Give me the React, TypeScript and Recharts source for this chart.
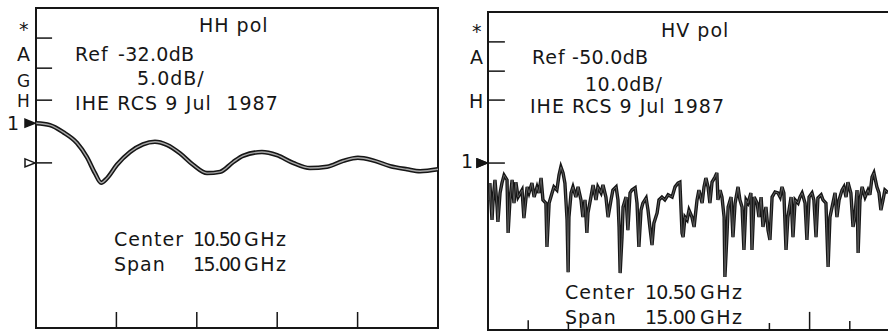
import React from 'react';
import { LineChart, Line, XAxis, YAxis, ReferenceArea, ReferenceLine, ReferenceDot } from 'recharts';

// HH pol trace (GHz, dB)
const hhFreq = [3.0, 3.52, 4.01, 4.53, 4.9, 5.2, 5.43, 5.65, 6.02, 6.51, 6.99, 7.44, 7.89, 8.37, 8.86, 9.38, 9.87, 10.35, 10.72, 11.43, 11.99, 12.59, 13.22, 13.86, 14.46, 15.01, 15.57, 16.21, 16.84, 17.33, 18.0];
const hhLevel = [-25.0, -25.3, -26.4, -28.1, -30.3, -32.8, -34.3, -33.6, -31.5, -29.5, -28.3, -27.9, -28.4, -29.7, -31.5, -32.8, -32.6, -31.1, -30.1, -29.5, -30.0, -31.2, -32.0, -31.8, -30.9, -30.4, -30.8, -31.7, -32.2, -32.5, -32.2];

// HV pol trace (GHz, dB)
const hvFreq = [
  3.04, 3.07, 3.15, 3.19, 3.26, 3.34, 3.37, 3.45, 3.52, 3.6,
  3.71, 3.75, 3.82, 3.9, 3.97, 4.04, 4.12, 4.27, 4.34, 4.46,
  4.53, 4.64, 4.72, 4.83, 4.9, 4.98, 5.05, 5.16, 5.2, 5.28,
  5.39, 5.46, 5.57, 5.65, 5.72, 5.8, 5.87, 5.95, 5.99, 6.02,
  6.1, 6.17, 6.28, 6.36, 6.47, 6.54, 6.62, 6.69, 6.73, 6.84,
  6.92, 7.03, 7.1, 7.22, 7.29, 7.4, 7.48, 7.59, 7.66, 7.78,
  7.85, 7.89, 7.93, 8.0, 8.04, 8.15, 8.22, 8.3, 8.37, 8.49,
  8.56, 8.63, 8.71, 8.78, 8.9, 8.97, 9.04, 9.12, 9.19, 9.31,
  9.38, 9.49, 9.6, 9.72, 9.87, 9.98, 10.09, 10.16, 10.24, 10.28,
  10.35, 10.43, 10.5, 10.61, 10.69, 10.8, 10.87, 10.99, 11.06, 11.13,
  11.21, 11.28, 11.36, 11.47, 11.54, 11.58, 11.66, 11.73, 11.81, 11.84,
  11.92, 11.96, 12.07, 12.14, 12.22, 12.33, 12.4, 12.48, 12.55, 12.63,
  12.7, 12.81, 12.85, 12.93, 13.04, 13.11, 13.19, 13.26, 13.37, 13.45,
  13.52, 13.6, 13.71, 13.82, 13.9, 13.97, 14.04, 14.12, 14.19, 14.31,
  14.38, 14.46, 14.57, 14.64, 14.72, 14.83, 14.9, 14.98, 15.09, 15.16,
  15.24, 15.31, 15.43, 15.5, 15.61, 15.69, 15.76, 15.84, 15.95, 16.02,
  16.1, 16.21, 16.28, 16.36, 16.43, 16.54, 16.62, 16.69, 16.77, 16.81,
  16.88, 16.96, 17.07, 17.18, 17.25, 17.33, 17.4, 17.51, 17.59, 17.66,
  17.74, 17.81, 17.93,
];
const hvLevel = [
  -59.1, -53.8, -65.4, -59.1, -52.8, -61.3, -66.0, -56.9, -53.8, -51.3,
  -52.8, -69.5, -59.1, -52.8, -60.1, -53.5, -58.2, -56.0, -64.8, -55.0,
  -56.9, -53.8, -58.2, -55.0, -56.9, -52.2, -59.1, -60.1, -73.9, -60.1,
  -56.9, -55.0, -56.0, -51.3, -48.7, -50.6, -53.8, -65.4, -81.8, -64.5,
  -56.9, -55.0, -58.2, -55.0, -59.1, -64.5, -59.1, -69.5, -63.2, -58.2,
  -54.4, -59.1, -55.0, -56.9, -54.4, -58.2, -64.5, -59.1, -56.0, -55.0,
  -59.1, -67.6, -82.1, -70.8, -61.3, -58.2, -68.6, -56.9, -56.0, -55.3,
  -60.1, -73.9, -62.3, -60.1, -58.5, -62.3, -67.6, -73.3, -66.4, -63.2,
  -59.1, -58.2, -59.1, -57.5, -58.2, -55.0, -53.8, -53.5, -69.5, -70.8,
  -64.5, -65.4, -62.3, -64.5, -67.6, -59.1, -56.0, -60.1, -55.0, -52.2,
  -55.0, -60.1, -53.5, -51.9, -50.6, -59.1, -56.0, -58.2, -64.5, -83.3,
  -69.5, -61.3, -58.2, -70.8, -60.1, -55.0, -59.1, -61.3, -74.8, -59.1,
  -60.1, -56.9, -74.8, -58.2, -60.1, -64.5, -58.2, -67.6, -61.3, -68.6,
  -71.7, -58.2, -56.6, -56.9, -58.2, -55.0, -56.9, -74.8, -64.5, -58.2,
  -70.8, -59.1, -60.1, -58.2, -56.9, -60.1, -71.7, -58.2, -56.9, -59.1,
  -70.8, -58.5, -57.5, -59.1, -60.1, -80.2, -64.5, -61.3, -56.9, -64.5,
  -59.1, -56.0, -55.0, -58.2, -53.5, -56.9, -67.6, -64.5, -56.0, -75.8,
  -59.1, -55.0, -58.2, -56.0, -57.5, -51.9, -50.6, -55.0, -56.9, -62.3,
  -59.1, -56.0, -56.9,
];

const freqDomain = [3, 18]; // center 10.50 GHz, span 15.00 GHz
const hhDomain = [-57, -7]; // ref -32 dB, 5 dB/div
const hvDomain = [-100, 0]; // ref -50 dB, 10 dB/div

// bottom frequency ticks [GHz, length in dB]
const hhTicks = [[6, 2.5], [9, 2.5], [12, 2.5], [15, 2.5]];
const hvTicks = [[4.5, 3.1], [6, 2.5], [13.5, 2.2], [15, 5.7], [16.5, 2.8]];

// left-edge annotation marks (dB)
const hhMarks = [-11.7, -16.4, -21.4];
const hvMarks = [-9.4, -18.6, -27.7];

const ink = '#161616';
const font = '"DejaVu Sans", sans-serif';

const hhData = hhFreq.map((f, i) => ({ f, v: hhLevel[i] }));
const hvData = hvFreq.map((f, i) => ({ f, v: hvLevel[i] }));

// y is the text baseline
const Txt = ({ x, y, children, size = 19, ls = 1 }: any) => (
  <div
    style={{
      position: 'absolute',
      left: x,
      top: y - 14,
      fontFamily: font,
      fontSize: size,
      lineHeight: '15px',
      letterSpacing: ls,
      color: ink,
      whiteSpace: 'pre',
    }}
  >
    {children}
  </div>
);

const triangle = (filled: boolean) => (props: any) => {
  const { cx, cy } = props;
  if (cx == null || cy == null) return null;
  return (
    <polygon
      points={`${cx - 11},${cy - 4} ${cx - 1},${cy} ${cx - 11},${cy + 4}`}
      fill={filled ? ink : '#fff'}
      stroke={ink}
      strokeWidth={1.5}
    />
  );
};

function Panel({ data, domain, ticks, marks, markLen, one, refLevel, smooth, margin }: any) {
  const [y0, y1] = domain;
  return (
    <LineChart width={445} height={331} data={data} margin={margin}>
      <XAxis type="number" dataKey="f" domain={freqDomain} hide />
      <YAxis type="number" domain={domain} hide allowDataOverflow />
      <ReferenceArea x1={3} x2={18} y1={y0} y2={y1} fill="none" stroke={ink} strokeWidth={2} ifOverflow="visible" />
      {ticks.map(([f, len]: number[]) => (
        <ReferenceLine
          key={'t' + f}
          segment={[{ x: f, y: y0 }, { x: f, y: y0 + len }]}
          stroke={ink}
          strokeWidth={1.5}
        />
      ))}
      {marks.map((m: number) => (
        <ReferenceLine
          key={'m' + m}
          segment={[{ x: 3, y: m }, { x: 3 + markLen, y: m }]}
          stroke={ink}
          strokeWidth={1.5}
        />
      ))}
      {refLevel != null && (
        <ReferenceLine segment={[{ x: 3, y: refLevel }, { x: 3 + markLen, y: refLevel }]} stroke={ink} strokeWidth={1.5} />
      )}
      {refLevel != null && <ReferenceDot x={3} y={refLevel} r={4} shape={triangle(false)} ifOverflow="visible" />}
      <ReferenceDot x={3} y={one} r={4} shape={triangle(true)} ifOverflow="visible" />
      <Line
        type={smooth ? 'monotone' : 'linear'}
        dataKey="v"
        stroke={ink}
        strokeWidth={smooth ? 4.5 : 3.4}
        dot={false}
        isAnimationActive={false}
      />
      <Line
        type={smooth ? 'monotone' : 'linear'}
        dataKey="v"
        stroke={smooth ? '#a8a8a8' : '#5a5a5a'}
        strokeWidth={smooth ? 1.4 : 1}
        dot={false}
        isAnimationActive={false}
      />
    </LineChart>
  );
}

export default function App() {
  return (
    <div
      style={{
        position: 'absolute',
        left: 0,
        top: 0,
        width: 888,
        height: 331,
        overflow: 'hidden',
        background: '#fff',
      }}
    >
      <div style={{ position: 'absolute', left: 0, top: 0 }}>
        <Panel
          data={hhData}
          domain={hhDomain}
          ticks={hhTicks}
          marks={hhMarks}
          markLen={0.6}
          one={-25.0}
          refLevel={-31.2}
          smooth
          margin={{ top: 8, right: 7, bottom: 3, left: 36 }}
        />
      </div>
      <div style={{ position: 'absolute', left: 445, top: 0 }}>
        <Panel
          data={hvData}
          domain={hvDomain}
          ticks={hvTicks}
          marks={hvMarks}
          markLen={0.63}
          one={-47.5}
          refLevel={-47.5}
          smooth={false}
          margin={{ top: 12, right: 0, bottom: 1, left: 43 }}
        />
      </div>

      {/* HH pol annotations */}
      <Txt x={19} y={36}>*</Txt>
      <Txt x={17} y={61}>A</Txt>
      <Txt x={17} y={88} size={17}>G</Txt>
      <Txt x={17} y={108} size={17}>H</Txt>
      <Txt x={7} y={130}>1</Txt>
      <Txt x={199} y={32}>HH pol</Txt>
      <Txt x={75} y={61}>Ref</Txt>
      <Txt x={118} y={61} ls={0.3}>-32.0dB</Txt>
      <Txt x={137} y={85}>5.0dB/</Txt>
      <Txt x={75} y={110} ls={1.1}>IHE RCS 9 Jul  1987</Txt>
      <Txt x={114} y={246}>Center</Txt>
      <Txt x={193} y={246} ls={-1.5}>10.50</Txt>
      <Txt x={244} y={246} ls={1.5}>GHz</Txt>
      <Txt x={114} y={271}>Span</Txt>
      <Txt x={193} y={271} ls={-1.5}>15.00</Txt>
      <Txt x={244} y={271} ls={1.5}>GHz</Txt>

      {/* HV pol annotations */}
      <Txt x={472} y={38}>*</Txt>
      <Txt x={470} y={64}>A</Txt>
      <Txt x={469} y={108}>H</Txt>
      <Txt x={461} y={168}>1</Txt>
      <Txt x={661} y={37}>HV pol</Txt>
      <Txt x={532} y={64}>Ref</Txt>
      <Txt x={572} y={64} ls={0.3}>-50.0dB</Txt>
      <Txt x={585} y={91} ls={0.5}>10.0dB/</Txt>
      <Txt x={530} y={113} ls={1}>IHE RCS 9 Jul 1987</Txt>
      <Txt x={565} y={299}>Center</Txt>
      <Txt x={645} y={299} ls={-0.8}>10.50</Txt>
      <Txt x={700} y={299} ls={1.5}>GHz</Txt>
      <Txt x={565} y={324}>Span</Txt>
      <Txt x={645} y={324} ls={-0.8}>15.00</Txt>
      <Txt x={700} y={324} ls={1.5}>GHz</Txt>
    </div>
  );
}
